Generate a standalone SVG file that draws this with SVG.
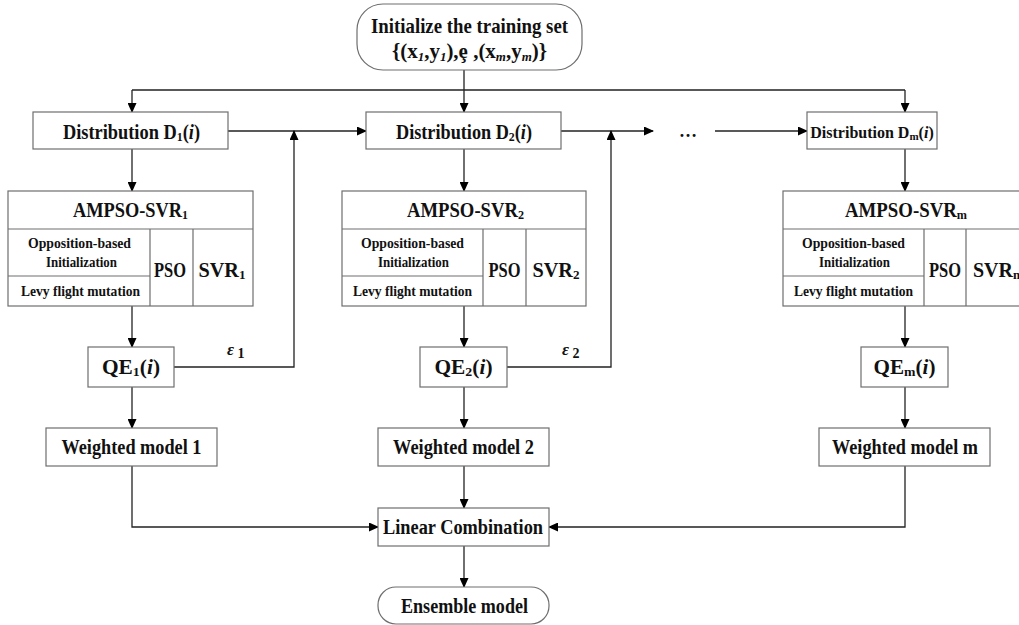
<svg xmlns="http://www.w3.org/2000/svg" width="1019" height="625" viewBox="0 0 1019 625">
<defs>
<marker id="ah" markerUnits="userSpaceOnUse" markerWidth="10" markerHeight="9" refX="9" refY="4.5" orient="auto">
<path d="M0,0 L10,4.5 L0,9 z" fill="#000"/>
</marker>
<style>
.b{fill:#fff;stroke:#6e6e6e;stroke-width:1.2}
.l{fill:none;stroke:#6e6e6e;stroke-width:1.2}
.c{fill:none;stroke:#222;stroke-width:1.3}
.t{font-family:"Liberation Serif","Times New Roman",serif;font-weight:bold;fill:#111;text-anchor:middle}
.m{font-size:20px}
.s{font-size:15px}
.p{font-size:20px}
.sub{font-size:13px}
.i{font-style:italic}
</style>
</defs>
<rect width="1019" height="625" fill="#fff"/>

<g id="connectors">
<path class="c" d="M464,70 V90 M132,90 H905"/>
<path class="c" d="M132,90 V112" marker-end="url(#ah)"/>
<path class="c" d="M464,90 V112" marker-end="url(#ah)"/>
<path class="c" d="M905,90 V112" marker-end="url(#ah)"/>
<path class="c" d="M228,131 H366" marker-end="url(#ah)"/>
<path class="c" d="M561,131 H653" marker-end="url(#ah)"/>
<path class="c" d="M715,131 H807" marker-end="url(#ah)"/>
<path class="c" d="M132,149 V191" marker-end="url(#ah)"/>
<path class="c" d="M464,149 V191" marker-end="url(#ah)"/>
<path class="c" d="M905,149 V191" marker-end="url(#ah)"/>
<path class="c" d="M132,306 V347" marker-end="url(#ah)"/>
<path class="c" d="M464,306 V347" marker-end="url(#ah)"/>
<path class="c" d="M905,306 V347" marker-end="url(#ah)"/>
<path class="c" d="M174,367 H294 V131" marker-end="url(#ah)"/>
<path class="c" d="M507,367 H611 V131" marker-end="url(#ah)"/>
<path class="c" d="M132,387 V428" marker-end="url(#ah)"/>
<path class="c" d="M464,387 V428" marker-end="url(#ah)"/>
<path class="c" d="M905,387 V428" marker-end="url(#ah)"/>
<path class="c" d="M132,466 V527 H378" marker-end="url(#ah)"/>
<path class="c" d="M464,466 V508" marker-end="url(#ah)"/>
<path class="c" d="M905,466 V527 H549" marker-end="url(#ah)"/>
<path class="c" d="M464,546 V587" marker-end="url(#ah)"/>
<text class="t i" x="227" y="355" font-size="17" style="text-anchor:start">ε<tspan font-style="normal" font-size="14" dy="3"> 1</tspan></text>
<text class="t i" x="562" y="355" font-size="17" style="text-anchor:start">ε<tspan font-style="normal" font-size="14" dy="3"> 2</tspan></text>
<text class="t" x="688" y="137" font-size="18">…</text>
</g>

<g id="init">
<rect class="b" x="357" y="4" width="225" height="66" rx="26"/>
<text class="t" x="469.5" y="33" font-size="21" textLength="197" lengthAdjust="spacingAndGlyphs">Initialize the training set</text>
<text class="t" x="469.5" y="58" font-size="21" textLength="155" lengthAdjust="spacingAndGlyphs">{(x<tspan class="sub i" dy="3">1</tspan><tspan dy="-3">,y</tspan><tspan class="sub i" dy="3">1</tspan><tspan dy="-3">),ȩ ,(x</tspan><tspan class="sub i" dy="3">m</tspan><tspan dy="-3">,y</tspan><tspan class="sub i" dy="3">m</tspan><tspan dy="-3">)}</tspan></text>
</g>

<g id="dist1">
<rect class="b" x="33" y="112" width="195" height="37"/>
<text class="t m" x="131.5" y="139" textLength="137" lengthAdjust="spacingAndGlyphs">Distribution D<tspan class="sub" dy="2">1</tspan><tspan dy="-2">(</tspan><tspan class="i">i</tspan>)</text>
</g>
<g id="dist2">
<rect class="b" x="366" y="112" width="195" height="37"/>
<text class="t m" x="464" y="139" textLength="136" lengthAdjust="spacingAndGlyphs">Distribution D<tspan class="sub" dy="2">2</tspan><tspan dy="-2">(</tspan><tspan class="i">i</tspan>)</text>
</g>
<g id="distm">
<rect class="b" x="807" y="112" width="130" height="37"/>
<text class="t" x="872" y="138" font-size="16">Distribution D<tspan font-size="11" dy="2">m</tspan><tspan dy="-2">(</tspan><tspan class="i">i</tspan>)</text>
</g>

<g id="ampso1">
<rect class="b" x="8" y="191" width="245" height="115"/>
<path class="l" d="M8,229 H253 M150,229 V306 M193,229 V306 M8,276 H150"/>
<text class="t m" x="130.5" y="217" textLength="115" lengthAdjust="spacingAndGlyphs">AMPSO-SVR<tspan class="sub" dy="2">1</tspan></text>
<text class="t s" x="79.5" y="248" textLength="103" lengthAdjust="spacingAndGlyphs">Opposition-based</text>
<text class="t s" x="81.5" y="267" textLength="71" lengthAdjust="spacingAndGlyphs">Initialization</text>
<text class="t s" x="80.5" y="296" textLength="119" lengthAdjust="spacingAndGlyphs">Levy flight mutation</text>
<text class="t p" x="170" y="277" textLength="32" lengthAdjust="spacingAndGlyphs">PSO</text>
<text class="t p" x="222" y="277" textLength="47" lengthAdjust="spacingAndGlyphs">SVR<tspan class="sub" dy="2">1</tspan></text>
</g>
<g id="ampso2">
<rect class="b" x="342" y="191" width="244" height="115"/>
<path class="l" d="M342,229 H586 M483,229 V306 M526,229 V306 M342,276 H483"/>
<text class="t m" x="465.5" y="217" textLength="117" lengthAdjust="spacingAndGlyphs">AMPSO-SVR<tspan class="sub" dy="2">2</tspan></text>
<text class="t s" x="412.5" y="248" textLength="103" lengthAdjust="spacingAndGlyphs">Opposition-based</text>
<text class="t s" x="413.5" y="267" textLength="71" lengthAdjust="spacingAndGlyphs">Initialization</text>
<text class="t s" x="412.5" y="296" textLength="119" lengthAdjust="spacingAndGlyphs">Levy flight mutation</text>
<text class="t p" x="504.5" y="277" textLength="32" lengthAdjust="spacingAndGlyphs">PSO</text>
<text class="t p" x="556" y="277" textLength="47" lengthAdjust="spacingAndGlyphs">SVR<tspan class="sub" dy="2">2</tspan></text>
</g>
<g id="ampsom">
<rect class="b" x="783" y="191" width="245" height="115"/>
<path class="l" d="M783,229 H1028 M924,229 V306 M966,229 V306 M783,276 H924"/>
<text class="t m" x="906" y="217" textLength="122" lengthAdjust="spacingAndGlyphs">AMPSO-SVR<tspan class="sub" dy="2">m</tspan></text>
<text class="t s" x="853.5" y="248" textLength="103" lengthAdjust="spacingAndGlyphs">Opposition-based</text>
<text class="t s" x="854.5" y="267" textLength="71" lengthAdjust="spacingAndGlyphs">Initialization</text>
<text class="t s" x="853.5" y="296" textLength="119" lengthAdjust="spacingAndGlyphs">Levy flight mutation</text>
<text class="t p" x="945" y="277" textLength="32" lengthAdjust="spacingAndGlyphs">PSO</text>
<text class="t p" x="973" y="277" style="text-anchor:start">SVR<tspan class="sub" dy="2">m</tspan></text>
</g>

<g id="qe1">
<rect class="b" x="88" y="347" width="86" height="40"/>
<text class="t m" x="131" y="374" textLength="58" lengthAdjust="spacingAndGlyphs">QE<tspan class="sub" dy="2">1</tspan><tspan dy="-2">(</tspan><tspan class="i">i</tspan>)</text>
</g>
<g id="qe2">
<rect class="b" x="420" y="347" width="87" height="40"/>
<text class="t m" x="463.5" y="374" textLength="58" lengthAdjust="spacingAndGlyphs">QE<tspan class="sub" dy="2">2</tspan><tspan dy="-2">(</tspan><tspan class="i">i</tspan>)</text>
</g>
<g id="qem">
<rect class="b" x="861" y="347" width="87" height="40"/>
<text class="t m" x="904.5" y="374" textLength="62" lengthAdjust="spacingAndGlyphs">QE<tspan class="sub" dy="2">m</tspan><tspan dy="-2">(</tspan><tspan class="i">i</tspan>)</text>
</g>

<g id="wm1">
<rect class="b" x="46" y="428" width="171" height="38"/>
<text class="t m" x="131.5" y="454" textLength="140" lengthAdjust="spacingAndGlyphs">Weighted model 1</text>
</g>
<g id="wm2">
<rect class="b" x="378" y="428" width="171" height="38"/>
<text class="t m" x="463.5" y="454" textLength="141" lengthAdjust="spacingAndGlyphs">Weighted model 2</text>
</g>
<g id="wmm">
<rect class="b" x="819" y="428" width="171" height="38"/>
<text class="t m" x="905" y="454" textLength="146" lengthAdjust="spacingAndGlyphs">Weighted model m</text>
</g>

<g id="linear">
<rect class="b" x="378" y="508" width="171" height="38"/>
<text class="t m" x="463" y="534" textLength="160" lengthAdjust="spacingAndGlyphs">Linear Combination</text>
</g>
<g id="ensemble">
<rect class="b" x="378" y="587" width="171" height="37" rx="18"/>
<text class="t m" x="464.5" y="613" textLength="127" lengthAdjust="spacingAndGlyphs">Ensemble model</text>
</g>
</svg>
